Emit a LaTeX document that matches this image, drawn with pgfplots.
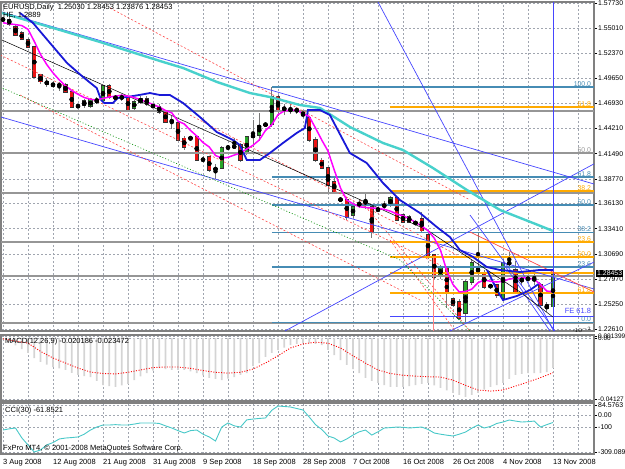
\documentclass[border=0pt]{standalone}
\usepackage{pgfplots}
\usepackage{pgfplotstable}
\pgfplotsset{compat=1.18}
\usepackage{fontspec}
\setmainfont{Liberation Sans}

\definecolor{mtgrid}{RGB}{160,165,175}
\definecolor{mtframe}{RGB}{128,128,128}
\definecolor{wick}{RGB}{120,120,120}
\definecolor{bull}{RGB}{40,165,40}
\definecolor{bear}{RGB}{235,20,20}
\definecolor{cyanma}{RGB}{72,209,204}
\definecolor{bluema}{RGB}{25,25,215}
\definecolor{magma}{RGB}{255,0,255}
\definecolor{tline}{RGB}{70,70,255}
\definecolor{fibteal}{RGB}{70,140,180}
\definecolor{fibgray}{RGB}{150,150,150}
\definecolor{fiborange}{RGB}{255,170,0}
\definecolor{cciline}{RGB}{72,200,200}
\definecolor{histgray}{RGB}{212,212,212}
\definecolor{rdash}{RGB}{255,70,70}
\definecolor{gdot}{RGB}{0,140,0}

\pgfplotstableread{
i o h l c
0 1.5598 1.5610 1.5580 1.5592
1 1.5592 1.5625 1.5530 1.5545
2 1.5514 1.5550 1.5420 1.5428
3 1.5450 1.5470 1.5370 1.5385
4 1.5374 1.5400 1.5290 1.5299
5 1.5299 1.5310 1.4960 1.4976
6 1.4997 1.5005 1.4905 1.4925
7 1.4925 1.4960 1.4870 1.4900
8 1.4900 1.4930 1.4860 1.4880
9 1.4880 1.4920 1.4830 1.4895
10 1.4890 1.4910 1.4800 1.4814
11 1.4814 1.4830 1.4640 1.4653
12 1.4660 1.4670 1.4655 1.4662
13 1.4720 1.4735 1.4640 1.4670
14 1.4660 1.4750 1.4640 1.4728
15 1.4728 1.4760 1.4690 1.4705
16 1.4720 1.4890 1.4700 1.4880
17 1.4880 1.4900 1.4740 1.4760
18 1.4755 1.4765 1.4740 1.4750
19 1.4750 1.4790 1.4720 1.4760
20 1.4760 1.4775 1.4600 1.4620
21 1.4642 1.4730 1.4620 1.4707
22 1.4707 1.4770 1.4680 1.4740
23 1.4740 1.4770 1.4660 1.4680
24 1.4665 1.4675 1.4650 1.4660
25 1.4653 1.4680 1.4580 1.4599
26 1.4599 1.4620 1.4480 1.4491
27 1.4495 1.4560 1.4420 1.4505
28 1.4480 1.4500 1.4290 1.4297
29 1.4318 1.4340 1.4190 1.4220
30 1.4315 1.4325 1.4300 1.4320
31 1.4329 1.4340 1.4070 1.4081
32 1.4090 1.4120 1.4050 1.4080
33 1.4114 1.4130 1.3952 1.3974
34 1.3980 1.4040 1.3880 1.3990
35 1.3995 1.4230 1.3980 1.4211
36 1.4215 1.4225 1.4200 1.4220
37 1.4220 1.4318 1.4211 1.4230
38 1.4243 1.4270 1.4060 1.4081
39 1.4157 1.4340 1.4140 1.4329
40 1.4330 1.4514 1.4222 1.4350
41 1.4350 1.4588 1.4290 1.4458
42 1.4460 1.4475 1.4450 1.4465
43 1.4465 1.4867 1.4437 1.4760
44 1.4760 1.4780 1.4560 1.4620
45 1.4630 1.4690 1.4570 1.4640
46 1.4630 1.4680 1.4580 1.4610
47 1.4615 1.4650 1.4580 1.4620
48 1.4600 1.4610 1.4530 1.4560
49 1.4534 1.4560 1.4280 1.4297
50 1.4297 1.4330 1.4060 1.4081
51 1.4081 1.4100 1.3980 1.3996
52 1.3996 1.4010 1.3730 1.3812
53 1.3845 1.3890 1.3720 1.3737
54 1.3650 1.3670 1.3640 1.3660
55 1.3651 1.3680 1.3440 1.3468
56 1.3489 1.3600 1.3460 1.3575
57 1.3600 1.3660 1.3560 1.3610
58 1.3620 1.3730 1.3550 1.3630
59 1.3575 1.3600 1.3240 1.3306
60 1.3540 1.3570 1.3530 1.3550
61 1.3580 1.3640 1.3540 1.3600
62 1.3597 1.3690 1.3580 1.3672
63 1.3672 1.3690 1.3420 1.3435
64 1.3489 1.3500 1.3400 1.3414
65 1.3470 1.3490 1.3400 1.3410
66 1.3400 1.3420 1.3390 1.3405
67 1.3450 1.3521 1.3290 1.3320
68 1.3274 1.3300 1.3020 1.3036
69 1.3058 1.3070 1.2800 1.2821
70 1.2843 1.2950 1.2800 1.2918
71 1.2929 1.2940 1.2487 1.2649
72 1.2584 1.2600 1.2500 1.2520
73 1.2552 1.2580 1.2360 1.2380
74 1.2433 1.2790 1.2330 1.2767
75 1.2767 1.3000 1.2740 1.2972
76 1.2929 1.3295 1.2840 1.2864
77 1.2864 1.2900 1.2690 1.2713
78 1.2720 1.2735 1.2710 1.2725
79 1.2735 1.2750 1.2600 1.2627
80 1.2595 1.3010 1.2580 1.2972
81 1.2980 1.3090 1.2930 1.2960
82 1.2897 1.2990 1.2640 1.2660
83 1.2780 1.2830 1.2740 1.2800
84 1.2800 1.2815 1.2790 1.2805
85 1.2790 1.2890 1.2730 1.2800
86 1.2735 1.2760 1.2500 1.2520
87 1.2520 1.2550 1.2440 1.2487
88 1.2503 1.2845 1.2388 1.2845
}\candles

\pgfplotstableread{
i v
0 1.5560
1 1.5550
2 1.5540
3 1.5530
4 1.5490
5 1.5360
6 1.5220
7 1.5110
8 1.5020
9 1.4945
10 1.4880
11 1.4830
12 1.4790
13 1.4755
14 1.4735
15 1.4728
16 1.4745
17 1.4760
18 1.4770
19 1.4780
20 1.4770
21 1.4755
22 1.4730
23 1.4707
24 1.4680
25 1.4653
26 1.4615
27 1.4590
28 1.4500
29 1.4470
30 1.4400
31 1.4340
32 1.4270
33 1.4222
34 1.4130
35 1.4103
36 1.4110
37 1.4135
38 1.4157
39 1.4200
40 1.4240
41 1.4297
42 1.4400
43 1.4460
44 1.4570
45 1.4610
46 1.4620
47 1.4620
48 1.4580
49 1.4550
50 1.4426
51 1.4297
52 1.4178
53 1.3974
54 1.3780
55 1.3651
56 1.3610
57 1.3578
58 1.3570
59 1.3565
60 1.3560
61 1.3550
62 1.3530
63 1.3500
64 1.3480
65 1.3450
66 1.3410
67 1.3370
68 1.3320
69 1.3240
70 1.3110
71 1.2890
72 1.2740
73 1.2660
74 1.2665
75 1.2690
76 1.2760
77 1.2789
78 1.2775
79 1.2767
80 1.2775
81 1.2800
82 1.2805
83 1.2811
84 1.2811
85 1.2795
86 1.2740
87 1.2670
88 1.2660
}\fastma

\pgfplotstableread{
i m
0 -0.0010
1 -0.0030
2 -0.0050
3 -0.0075
4 -0.0101
5 -0.0135
6 -0.0162
7 -0.0180
8 -0.0196
9 -0.0206
10 -0.0216
11 -0.0235
12 -0.0250
13 -0.0258
14 -0.0264
15 -0.0290
16 -0.0318
17 -0.0325
18 -0.0331
19 -0.0320
20 -0.0310
21 -0.0284
22 -0.0260
23 -0.0237
24 -0.0220
25 -0.0203
26 -0.0210
27 -0.0216
28 -0.0216
29 -0.0216
30 -0.0226
31 -0.0237
32 -0.0253
33 -0.0270
34 -0.0277
35 -0.0284
36 -0.0274
37 -0.0264
38 -0.0250
39 -0.0237
40 -0.0190
41 -0.0169
42 -0.0128
43 -0.0100
44 -0.0081
45 -0.0064
46 -0.0047
47 -0.0040
48 -0.0034
49 -0.0036
50 -0.0040
51 -0.0047
52 -0.0080
53 -0.0115
54 -0.0150
55 -0.0182
56 -0.0210
57 -0.0237
58 -0.0270
59 -0.0290
60 -0.0304
61 -0.0318
62 -0.0331
63 -0.0331
64 -0.0331
65 -0.0325
66 -0.0318
67 -0.0310
68 -0.0304
69 -0.0320
70 -0.0338
71 -0.0355
72 -0.0372
73 -0.0385
74 -0.0399
75 -0.0385
76 -0.0372
77 -0.0350
78 -0.0331
79 -0.0318
80 -0.0304
81 -0.0277
82 -0.0250
83 -0.0243
84 -0.0237
85 -0.0237
86 -0.0237
87 -0.0230
88 -0.0202
}\macd

\pgfplotstableread{
i s
0 -0.0005
1 -0.0013
2 -0.0020
4 -0.0034
6 -0.0090
8 -0.0135
10 -0.0169
12 -0.0203
14 -0.0230
16 -0.0240
18 -0.0243
20 -0.0232
22 -0.0216
24 -0.0200
26 -0.0196
28 -0.0196
30 -0.0205
32 -0.0220
34 -0.0232
36 -0.0237
38 -0.0232
40 -0.0210
42 -0.0169
44 -0.0120
46 -0.0067
48 -0.0040
50 -0.0028
52 -0.0035
54 -0.0067
56 -0.0120
58 -0.0170
60 -0.0216
62 -0.0240
64 -0.0252
66 -0.0258
68 -0.0262
70 -0.0264
72 -0.0285
74 -0.0320
76 -0.0352
78 -0.0359
80 -0.0352
82 -0.0325
84 -0.0298
86 -0.0268
88 -0.0235
}\signal

\pgfplotstableread{
i v
0 -125
1 -115
2 -108
3 -190
4 -250
5 -309
6 -292
7 -250
8 -230
9 -200
10 -192
11 -188
12 -183
13 -160
14 -125
15 -100
16 -83
17 -83
18 -80
19 -83
20 -83
21 -75
22 -66
23 -66
24 -66
25 -70
26 -90
27 -108
28 -130
29 -150
30 -130
31 -125
32 -160
33 -183
34 -217
35 -100
36 -66
37 -90
38 -100
39 -40
40 -33
41 -28
42 -24
43 40
44 76
45 72
46 68
47 55
48 43
49 -16
50 -80
51 -120
52 -175
53 -192
54 -225
55 -200
56 -167
57 -140
58 -125
59 -167
60 -140
61 -108
62 -105
63 -100
64 -102
65 -108
66 -104
67 -100
68 -120
69 -150
70 -160
71 -168
72 -175
73 -160
74 -142
75 -110
76 -83
77 -108
78 -95
79 -70
80 -58
81 -41
82 -50
83 -58
84 -55
85 -50
86 -100
87 -80
88 -62
}\cci

\pgfplotsset{
  mt/.style={
    scale only axis, width=593pt, xmin=-0.32, xmax=94.56,
    anchor=north west,
    axis line style={mtframe, line width=1.2pt},
    grid style={mtgrid, dash pattern=on 2pt off 2pt, line width=0.5pt},
    minor grid style={mtgrid, dash pattern=on 2pt off 2pt, line width=0.5pt},
    xtick={0,8,...,88}, minor xtick={4,12,...,92},
    xmajorgrids, xminorgrids, ymajorgrids,
    xtick style={draw=none}, minor tick length=0pt,
    ytick pos=right, yticklabel pos=right,
    tick align=outside, major tick length=3pt,
    ytick style={black, line width=0.5pt},
    xticklabel style={font=\fontsize{7.5}{9}\selectfont},
    yticklabel style={font=\fontsize{6.9}{8}\selectfont, inner sep=0.5pt, xshift=0.5pt},
  },
  candle/.style={only marks, mark=none,
    error bars/y dir=both, error bars/y explicit, error bars/error mark=none},
}
\newcommand{\lbl}{\fontsize{7.5}{9}\selectfont}
\newcommand{\sml}{\fontsize{6.9}{8}\selectfont}

\begin{document}
\begin{tikzpicture}
\useasboundingbox (0,0) rectangle (625pt,-469pt);

% ---------------- main price panel ----------------
\begin{axis}[mt, at={(1pt,-2pt)}, height=329pt,
  ymin=1.22394, ymax=1.57838, xticklabels={,,,,,,,,,,,,},
  ytick={1.22610,1.25250,1.27970,1.30690,1.33410,1.36130,1.38770,1.41490,1.44210,1.46930,1.49650,1.52370,1.55010,1.57730},
  yticklabels={1.22610,1.25250,1.27970,1.30690,1.33410,1.36130,1.38770,1.41490,1.44210,1.46930,1.49650,1.52370,1.55010,1.57730}]

% candles: wicks
\addplot[candle, error bars/error bar style={wick, line width=0.9pt}]
  table[x=i, y expr={(\thisrow{h}+\thisrow{l})/2}, y error expr={(\thisrow{h}-\thisrow{l})/2}] {\candles};
% bodies outline
\addplot[candle, error bars/error bar style={black!80, line width=4.2pt}]
  table[x=i, y expr={(\thisrow{o}+\thisrow{c})/2}, y error expr={max(abs(\thisrow{c}-\thisrow{o})/2,0.0003)+0.0006}] {\candles};
% bull bodies
\addplot[candle, restrict expr to domain={\thisrow{c}-\thisrow{o}}{0:1},
  error bars/error bar style={bull, line width=2.8pt}]
  table[x=i, y expr={(\thisrow{o}+\thisrow{c})/2}, y error expr={max(abs(\thisrow{c}-\thisrow{o})/2,0.0003)}] {\candles};
% bear bodies
\addplot[candle, restrict expr to domain={\thisrow{o}-\thisrow{c}}{0.00001:1},
  error bars/error bar style={bear, line width=2.8pt}]
  table[x=i, y expr={(\thisrow{o}+\thisrow{c})/2}, y error expr={max(abs(\thisrow{c}-\thisrow{o})/2,0.0003)}] {\candles};

% gray horizontal levels
\foreach \p in {1.4610,1.4157,1.3726,1.3198,1.2832,1.2326}{
  \edef\tmp{\noexpand\addplot[fibgray, line width=1.4pt] coordinates {(-0.32,\p) (94.56,\p)};}\tmp }
% teal fibo
\foreach \p in {1.4867,1.3898,1.3599,1.3299,1.2929,1.2330}{
  \edef\tmp{\noexpand\addplot[fibteal, line width=1.4pt] coordinates {(43,\p) (94.56,\p)};}\tmp }
% orange fibo
\foreach \p in {1.4653,1.3748,1.3198,1.3037,1.2864,1.2649}{
  \edef\tmp{\noexpand\addplot[fiborange, line width=1.8pt] coordinates {(61.9,\p) (94.56,\p)};}\tmp }
\addplot[tline, line width=0.8pt] coordinates {(61.9,1.2400) (94.56,1.2400)};

% trend lines
\addplot[tline, line width=0.7pt] coordinates {(-0.16,1.5676) (94.56,1.3823)};
\addplot[tline, line width=0.7pt] coordinates {(-0.32,1.4545) (94.56,1.2692)};
\addplot[tline, line width=0.7pt] coordinates {(60,1.5784) (88.1,1.2239)};
\addplot[tline, line width=0.7pt] coordinates {(45.1,1.2239) (94.56,1.4040)};
\addplot[tline, line width=0.7pt] coordinates {(71.5,1.2239) (94.56,1.2982)};
\addplot[tline, line width=0.7pt] coordinates {(74.72,1.3489) (88.32,1.2239)};
\addplot[tline, line width=0.7pt] coordinates {(80,1.2972) (87.52,1.2239)};
\addplot[tline, line width=0.8pt] coordinates {(88,1.2239) (88,1.5784)};

\addplot[rdash, line width=0.6pt, dash pattern=on 2pt off 2pt] coordinates {(17.12,1.5719) (74.72,1.3651)};
\addplot[rdash, line width=0.6pt, dash pattern=on 2pt off 2pt] coordinates {(-0.48,1.5213) (69.92,1.2951)};
\addplot[rdash, line width=0.6pt, dash pattern=on 2pt off 2pt] coordinates {(2.72,1.4782) (66.72,1.2573)};
\addplot[rdash, line width=0.6pt, dash pattern=on 2pt off 2pt] coordinates {(29.92,1.4566) (72.64,1.3058)};
\addplot[rdash, line width=0.6pt, dash pattern=on 2pt off 2pt] coordinates {(57.12,1.3651) (74.72,1.2239)};
\addplot[rdash, line width=0.6pt, dash pattern=on 2pt off 2pt] coordinates {(61.92,1.3220) (72.32,1.2239)};
\addplot[rdash, line width=0.7pt] coordinates {(74.72,1.3306) (94.56,1.2660)};
\addplot[color={rgb,255:red,255;green,130;blue,130}, line width=0.8pt] coordinates {(68.8,1.3037) (68.8,1.2239)};
\addplot[gdot, line width=0.6pt, dash pattern=on 1pt off 2pt] coordinates {(-0.48,1.4868) (47.52,1.3468) (63.52,1.3004) (74.72,1.2239)};
\addplot[black, line width=0.5pt] coordinates {(-0.16,1.5374) (49.12,1.3898) (67.84,1.3328) (82.72,1.2660) (88,1.2390)};

% moving averages
\addplot[cyanma, line width=2.4pt] coordinates {(-0.16,1.5665) (9.12,1.5482) (15.52,1.5353) (25.12,1.5148) (28.8,1.5073) (34.24,1.4922) (39.52,1.4803) (42.72,1.4760) (47.52,1.4674) (50.72,1.4642) (55.52,1.4437) (60.8,1.4265) (64,1.4189) (68.8,1.3995) (74.24,1.3758) (79.52,1.3543) (84.8,1.3403) (88,1.3317)};
\addplot[bluema, line width=1.8pt] coordinates {(2.72,1.5665) (4.8,1.5558) (7.52,1.5342) (10.24,1.5127) (12.8,1.4976) (15,1.4857) (15.7,1.4728) (16.2,1.4696) (17.6,1.4696) (18.4,1.4750) (19.8,1.4760) (21.8,1.4782) (23.5,1.4803) (25.1,1.4782) (26.7,1.4782) (28.8,1.4696) (31.5,1.4545) (34.2,1.4383) (36.8,1.4297) (37.9,1.4243) (39,1.4082) (41.1,1.4082) (42.7,1.4157) (44.8,1.4265) (47,1.4373) (48.3,1.4426) (48.8,1.4620) (50.7,1.4620) (52.3,1.4566) (55.5,1.4157) (58.2,1.4049) (60.8,1.3834) (63.5,1.3651) (66.7,1.3511) (69.4,1.3360) (71.5,1.3252) (73.1,1.3112) (75.2,1.3037) (77.4,1.2929) (79.5,1.2897) (82.7,1.2875) (85.9,1.2897) (88,1.2897)};
\addplot[bluema, line width=1.8pt] coordinates {(77.44,1.2897) (79.04,1.2681) (80,1.2573) (82.24,1.2617) (84.32,1.2681) (85.92,1.2757)};
\addplot[magma, line width=1.5pt] table[x=i, y=v] {\fastma};

% level labels
\node[anchor=south east, inner sep=0.5pt, text=fibteal, font=\sml] at (axis cs:94.2,1.4867) {100.0};
\node[anchor=south east, inner sep=0.5pt, text=fiborange, font=\sml] at (axis cs:94.2,1.4653) {61.8};
\node[anchor=south east, inner sep=0.5pt, text=fibgray, font=\sml] at (axis cs:94.2,1.4157) {50.0};
\node[anchor=south east, inner sep=0.5pt, text=fibteal, font=\sml] at (axis cs:94.2,1.3898) {61.8};
\node[anchor=south east, inner sep=0.5pt, text=fiborange, font=\sml] at (axis cs:94.2,1.3748) {38.2};
\node[anchor=south east, inner sep=0.5pt, text=fibteal, font=\sml] at (axis cs:94.2,1.3599) {50.0};
\node[anchor=south east, inner sep=0.5pt, text=fibteal, font=\sml] at (axis cs:94.2,1.3299) {38.2};
\node[anchor=south east, inner sep=0.5pt, text=fiborange, font=\sml] at (axis cs:94.2,1.3198) {23.6};
\node[anchor=south east, inner sep=0.5pt, text=fiborange, font=\sml] at (axis cs:94.2,1.3037) {50.0};
\node[anchor=south east, inner sep=0.5pt, text=fibteal, font=\sml] at (axis cs:94.2,1.2929) {23.6};
\node[anchor=south east, inner sep=0.5pt, text=fiborange, font=\sml] at (axis cs:94.2,1.2649) {61.8};
\node[anchor=south east, inner sep=0.5pt, text=tline, font=\lbl] at (axis cs:94.2,1.2420) {FE 61.8};
\node[anchor=south east, inner sep=0.5pt, text=fibteal, font=\sml] at (axis cs:94.2,1.2330) {0.0};

\node[anchor=north west, inner sep=0pt, font=\lbl] at ([shift={(2pt,-2pt)}]rel axis cs:0,1) {EURUSD,Daily\ \ 1.25030 1.28453 1.23876 1.28453};
\node[anchor=north west, inner sep=0pt, font=\lbl] at ([shift={(2pt,-10pt)}]rel axis cs:0,1) {HE, 1.2889};
\coordinate (cp) at (axis cs:94.56,1.28453);
\end{axis}

\node[fill=black, text=white, anchor=west, inner sep=1pt, font=\sml] at ([shift={(2pt,1.5pt)}]cp) {1.28453};

% ---------------- MACD panel ----------------
\begin{axis}[mt, at={(1pt,-335pt)}, height=66pt,
  ymin=-0.042626, ymax=0.002076, xticklabels={,,,,,,,,,,,,},
  yticklabel style={font=\fontsize{6.5}{7}\selectfont},
  ytick={0.001399,0,-0.04127}, yticklabels={0.001399,0.00,-0.04127}]
\addplot[ybar, bar width=1.8pt, fill=histgray, draw=none] table[x=i, y=m] {\macd};
\addplot[red, line width=0.9pt, dash pattern=on 1pt off 1.6pt] table[x=i, y=s] {\signal};
\node[anchor=north west, inner sep=0pt, font=\lbl] at ([shift={(4pt,-3pt)}]rel axis cs:0,1) {MACD(12,26,9) -0.020186 -0.023472};
\end{axis}

% ---------------- CCI panel ----------------
\begin{axis}[mt, at={(1pt,-403pt)}, height=51pt,
  ymin=-325.8, ymax=101.3,
  ytick={84.5763,0,-100,-309.089}, yticklabels={84.5763,0.00,-100,-309.089},
  xticklabels={3 Aug 2008,12 Aug 2008,21 Aug 2008,31 Aug 2008,9 Sep 2008,18 Sep 2008,28 Sep 2008,7 Oct 2008,16 Oct 2008,26 Oct 2008,4 Nov 2008,13 Nov 2008},
  xticklabel style={anchor=north west, inner sep=0pt, yshift=-2pt}]
\addplot[cciline, line width=0.9pt] table[x=i, y=v] {\cci};
\node[anchor=north west, inner sep=0pt, font=\lbl] at ([shift={(4pt,-4pt)}]rel axis cs:0,1) {CCI(30) -61.8521};
\node[anchor=south west, inner sep=0pt, font=\lbl] at ([shift={(2pt,2pt)}]rel axis cs:0,0) {FxPro MT4, \textcopyright\ 2001-2008 MetaQuotes Software Corp.};
\end{axis}
\end{tikzpicture}
\end{document}
